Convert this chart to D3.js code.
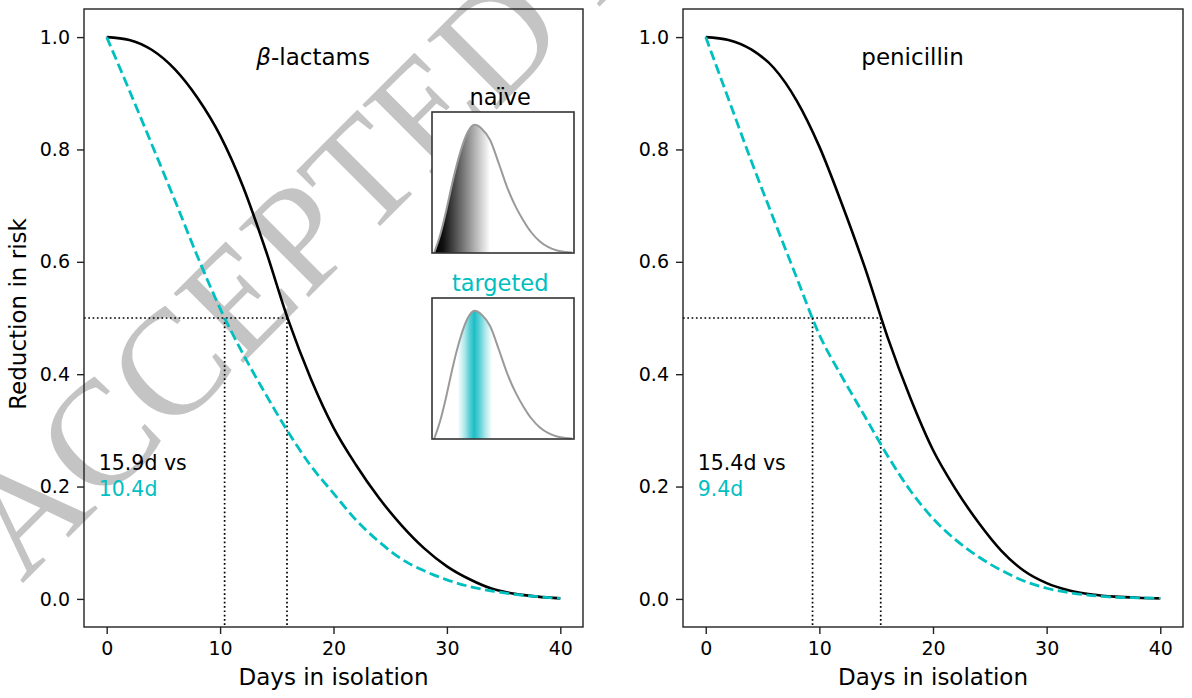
<!DOCTYPE html>
<html>
<head>
<meta charset="utf-8">
<script src="https://cdn.jsdelivr.net/npm/d3@7"></script>
<style>
body { margin: 0; background: #fff; }
svg { display: block; font-family: 'DejaVu Sans', sans-serif; }
</style>
</head>
<body>
<svg></svg>
<script>
// values
let days = [0, 2, 4, 6, 8, 10, 12, 14, 16, 18, 20, 22, 24, 26, 28, 30, 32, 34, 36, 38, 40]

let lactamNaive    = [1, 0.995, 0.977, 0.943, 0.892, 0.825, 0.735, 0.622, 0.497, 0.392, 0.305, 0.238, 0.180, 0.131, 0.090, 0.058, 0.035, 0.018, 0.009, 0.004, 0.001]
let lactamTargeted = [1, 0.905, 0.808, 0.710, 0.610, 0.517, 0.437, 0.365, 0.297, 0.237, 0.188, 0.140, 0.102, 0.071, 0.050, 0.034, 0.022, 0.014, 0.008, 0.004, 0.001]
let penNaive       = [1, 0.995, 0.978, 0.945, 0.887, 0.805, 0.702, 0.590, 0.466, 0.358, 0.265, 0.195, 0.136, 0.086, 0.050, 0.028, 0.015, 0.008, 0.004, 0.002, 0.001]
let penTargeted    = [1, 0.890, 0.780, 0.675, 0.572, 0.470, 0.395, 0.325, 0.255, 0.193, 0.143, 0.105, 0.075, 0.051, 0.032, 0.019, 0.011, 0.006, 0.003, 0.002, 0.001]

let halfDays = { lactam: [15.9, 10.4], pen: [15.4, 9.4] }

let xTicks = [0, 10, 20, 30, 40]
let yTicks = [0, 0.2, 0.4, 0.6, 0.8, 1.0]

// inset: exposure distribution shape
let insetX = [0.15, 0.6, 1.0, 1.5, 2.0, 2.5, 3.0, 3.5, 4.1, 4.7, 5.3, 5.9, 6.4, 7.0, 7.6, 8.2, 8.8, 9.4, 9.85]
let insetY = [0, 0.15, 0.33, 0.58, 0.79, 0.94, 1.0, 0.97, 0.88, 0.70, 0.51, 0.36, 0.26, 0.16, 0.09, 0.045, 0.02, 0.008, 0.004]

let cyan = '#00bfbf'
let width = 1192
let height = 698
let plotTop = 9
let plotBottom = 627

let svg = d3.select('svg')
svg.attr('width', width).attr('height', height)

let defs = svg.append('defs')

// watermark underneath everything
svg.append('text')
   .attr('transform', 'translate(22,584) rotate(-45)')
   .attr('font-family', "'Liberation Serif', serif")
   .attr('font-size', 150)
   .attr('fill', '#c4c4c4')
   .text('ACCEPTED MANUSCRIPT')

let yScale = d3.scaleLinear().domain([-0.05, 1.05]).range([plotBottom, plotTop])

let drawPanel = (left, right, naive, targeted, half, title, labels, showYLabel) => {
    let xScale = d3.scaleLinear().domain([-2, 42]).range([left, right])
    let g = svg.append('g')

    let line = d3.line()
                 .x((d, i) => xScale(days[i]))
                 .y(d => yScale(d))
                 .curve(d3.curveMonotoneX)

    // dotted guides at 50%
    g.append('line')
     .attr('x1', left).attr('x2', xScale(half[0]))
     .attr('y1', yScale(0.5)).attr('y2', yScale(0.5))
     .attr('stroke', '#000').attr('stroke-width', 1.7).attr('stroke-dasharray', '1.7,2.6')
    half.forEach(h => {
        g.append('line')
         .attr('x1', xScale(h)).attr('x2', xScale(h))
         .attr('y1', yScale(0.5)).attr('y2', plotBottom)
         .attr('stroke', '#000').attr('stroke-width', 1.7).attr('stroke-dasharray', '1.7,2.6')
    })

    g.append('path')
     .attr('d', line(naive))
     .attr('fill', 'none').attr('stroke', '#000').attr('stroke-width', 2.6)

    g.append('path')
     .attr('d', line(targeted))
     .attr('fill', 'none').attr('stroke', cyan).attr('stroke-width', 2.8)
     .attr('stroke-dasharray', '10,4.5')

    // axes
    let xAxis = d3.axisBottom(xScale).tickValues(xTicks).tickSize(7).tickPadding(8).tickFormat(d3.format('d'))
    let yAxis = d3.axisLeft(yScale).tickValues(yTicks).tickSize(7).tickPadding(7).tickFormat(d3.format('.1f'))

    let gx = g.append('g').attr('transform', 'translate(0,' + plotBottom + ')').call(xAxis)
    let gy = g.append('g').attr('transform', 'translate(' + left + ',0)').call(yAxis)
    ;[gx, gy].forEach(a => {
        a.select('.domain').remove()
        a.selectAll('line').attr('stroke', '#222').attr('stroke-width', 1.4)
        a.selectAll('text').attr('font-family', "'DejaVu Sans', sans-serif").attr('font-size', 19).attr('fill', '#000')
    })

    g.append('rect')
     .attr('x', left).attr('y', plotTop)
     .attr('width', right - left).attr('height', plotBottom - plotTop)
     .attr('fill', 'none').attr('stroke', '#222').attr('stroke-width', 1.4)

    g.append('text')
     .attr('x', (left + right) / 2).attr('y', 685)
     .attr('text-anchor', 'middle').attr('font-size', 23)
     .text('Days in isolation')

    if (showYLabel) {
        g.append('text')
         .attr('transform', 'translate(26,314) rotate(-90)')
         .attr('text-anchor', 'middle').attr('font-size', 23)
         .text('Reduction in risk')
    }

    // title
    let t = g.append('text')
             .attr('x', xScale(18.2)).attr('y', 65)
             .attr('text-anchor', 'middle').attr('font-size', 23)
    title.forEach(part => {
        t.append('tspan').attr('font-style', part[1] ? 'italic' : 'normal').text(part[0])
    })

    // half-time labels
    g.append('text')
     .attr('x', xScale(-0.7)).attr('y', 470)
     .attr('font-size', 20.5).attr('fill', '#000')
     .text(labels[0])
    g.append('text')
     .attr('x', xScale(-0.7)).attr('y', 496)
     .attr('font-size', 20.5).attr('fill', cyan)
     .text(labels[1])
}

drawPanel(84, 583, lactamNaive, lactamTargeted, halfDays.lactam,
          [['β', true], ['-lactams', false]], ['15.9d vs', '10.4d'], true)
drawPanel(683, 1183, penNaive, penTargeted, halfDays.pen,
          [['penicillin', false]], ['15.4d vs', '9.4d'], false)

// insets
let inX = d3.scaleLinear().domain([0, 10]).range([432, 574])

let naiveGrad = defs.append('linearGradient')
                    .attr('id', 'naiveGrad').attr('gradientUnits', 'userSpaceOnUse')
                    .attr('x1', inX(0.2)).attr('x2', inX(4.1)).attr('y1', 0).attr('y2', 0)
naiveGrad.append('stop').attr('offset', 0).attr('stop-color', '#000')
naiveGrad.append('stop').attr('offset', 0.15).attr('stop-color', '#111')
naiveGrad.append('stop').attr('offset', 1).attr('stop-color', '#fff')

let bandGrad = defs.append('linearGradient')
                   .attr('id', 'bandGrad').attr('gradientUnits', 'userSpaceOnUse')
                   .attr('x1', inX(1.8)).attr('x2', inX(4.25)).attr('y1', 0).attr('y2', 0)
;[[0, 0], [0.2, 0.35], [0.35, 0.75], [0.48, 1], [0.62, 0.75], [0.8, 0.35], [1, 0]].forEach(s => {
    bandGrad.append('stop').attr('offset', s[0]).attr('stop-color', '#1dbec6').attr('stop-opacity', s[1])
})

let drawInset = (boxTop, label, labelColor, fill) => {
    let inY = d3.scaleLinear().domain([0, 1.1]).range([boxTop + 141, boxTop])
    let g = svg.append('g')

    g.append('rect')
     .attr('x', inX(0)).attr('y', boxTop)
     .attr('width', inX(10) - inX(0)).attr('height', 141)
     .attr('fill', '#fff')

    let area = d3.area()
                 .x((d, i) => inX(insetX[i]))
                 .y0(inY(0))
                 .y1(d => inY(d))
                 .curve(d3.curveMonotoneX)
    let line = d3.line()
                 .x((d, i) => inX(insetX[i]))
                 .y(d => inY(d))
                 .curve(d3.curveMonotoneX)

    g.append('path').attr('d', area(insetY)).attr('fill', fill)
    g.append('path').attr('d', line(insetY))
     .attr('fill', 'none').attr('stroke', '#9a9a9a').attr('stroke-width', 2)

    g.append('rect')
     .attr('x', inX(0)).attr('y', boxTop)
     .attr('width', inX(10) - inX(0)).attr('height', 141)
     .attr('fill', 'none').attr('stroke', '#333').attr('stroke-width', 1.6)

    g.append('text')
     .attr('x', inX(4.8)).attr('y', boxTop - 7)
     .attr('text-anchor', 'middle').attr('font-size', 22.5)
     .attr('fill', labelColor)
     .text(label)
}

drawInset(112, 'naïve', '#000', 'url(#naiveGrad)')
drawInset(298, 'targeted', cyan, 'url(#bandGrad)')
</script>
</body>
</html>
